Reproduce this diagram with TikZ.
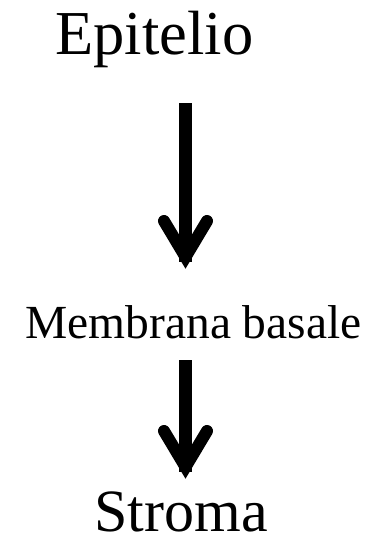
\documentclass[tikz,border=0pt]{standalone}
\usepackage{fontspec}
\setmainfont{Liberation Serif}
\begin{document}
\begin{tikzpicture}[x=1pt,y=-1pt,
  lbl/.style={anchor=base,inner sep=0pt,outer sep=0pt},
  shaft/.style={line width=12.5pt,line cap=butt},
  head/.style={line width=12pt,line cap=round,line join=miter,miter limit=10}]
\useasboundingbox (0,0) rectangle (383,542);
\node[lbl,font=\fontsize{62.5}{62.5}\selectfont] (epi) at (154.5,54) {Epitelio};
\node[lbl,font=\fontsize{47.5}{47.5}\selectfont] (mem) at (193.5,338) {Membrana basale};
\node[lbl,font=\fontsize{60}{60}\selectfont] (str) at (181,531) {Stroma};
% arrow 1
\coordinate (a1s) at (185.5,103);
\coordinate (a1e) at (185.5,262);
\coordinate (a1l) at (164,221);
\coordinate (a1t) at (185.5,257);
\coordinate (a1r) at (207,221);
\draw[shaft] (a1s) -- (a1e);
\draw[head] (a1l) -- (a1t) -- (a1r);
% arrow 2
\coordinate (a2s) at (185.5,360);
\coordinate (a2e) at (185.5,472);
\coordinate (a2l) at (164,431);
\coordinate (a2t) at (185.5,467);
\coordinate (a2r) at (207,431);
\draw[shaft] (a2s) -- (a2e);
\draw[head] (a2l) -- (a2t) -- (a2r);
\end{tikzpicture}
\end{document}
